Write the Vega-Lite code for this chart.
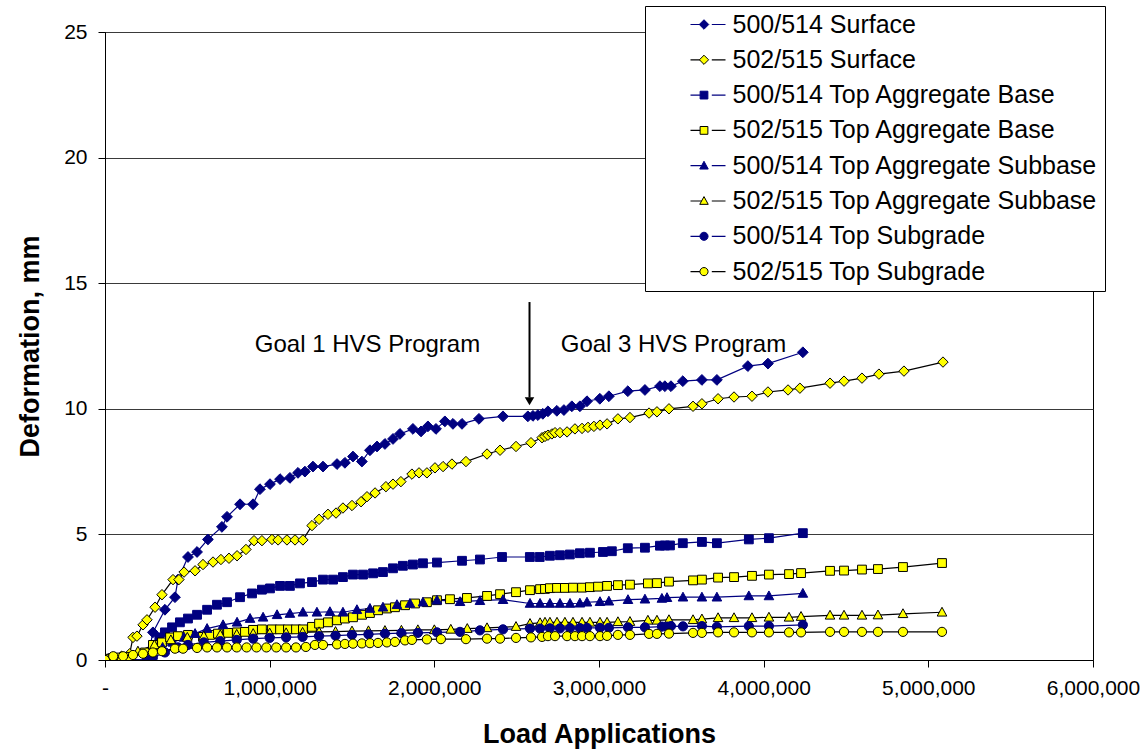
{
"$schema": "https://vega.github.io/schema/vega-lite/v6.json",
"width": 988, "height": 628,
"autosize": {"type": "none"},
"padding": {"left": 105, "top": 32, "right": 50, "bottom": 90},
"background": "white",
"config": {"font": "Liberation Sans", "view": {"stroke": "black", "strokeWidth": 1}},
"data": {"values": [
{"s":"500/514 Surface","x":0,"y":0},{"s":"500/514 Surface","x":20000,"y":0.03},{"s":"500/514 Surface","x":60000,"y":0.05},{"s":"500/514 Surface","x":255000,"y":-0.05},{"s":"500/514 Surface","x":291000,"y":1.1},{"s":"500/514 Surface","x":364000,"y":2.0},{"s":"500/514 Surface","x":425000,"y":2.5},{"s":"500/514 Surface","x":443000,"y":3.2},{"s":"500/514 Surface","x":504000,"y":4.1},{"s":"500/514 Surface","x":559000,"y":4.3},{"s":"500/514 Surface","x":625000,"y":4.8},{"s":"500/514 Surface","x":710000,"y":5.3},{"s":"500/514 Surface","x":741000,"y":5.7},{"s":"500/514 Surface","x":820000,"y":6.2},{"s":"500/514 Surface","x":899000,"y":6.2},{"s":"500/514 Surface","x":941000,"y":6.8},{"s":"500/514 Surface","x":1002000,"y":7.0},{"s":"500/514 Surface","x":1063000,"y":7.2},{"s":"500/514 Surface","x":1123000,"y":7.25},{"s":"500/514 Surface","x":1172000,"y":7.45},{"s":"500/514 Surface","x":1214000,"y":7.5},{"s":"500/514 Surface","x":1263000,"y":7.7},{"s":"500/514 Surface","x":1324000,"y":7.7},{"s":"500/514 Surface","x":1409000,"y":7.8},{"s":"500/514 Surface","x":1457000,"y":7.85},{"s":"500/514 Surface","x":1506000,"y":8.1},{"s":"500/514 Surface","x":1560000,"y":7.9},{"s":"500/514 Surface","x":1609000,"y":8.35},{"s":"500/514 Surface","x":1652000,"y":8.5},{"s":"500/514 Surface","x":1700000,"y":8.6},{"s":"500/514 Surface","x":1749000,"y":8.8},{"s":"500/514 Surface","x":1791000,"y":9.0},{"s":"500/514 Surface","x":1870000,"y":9.2},{"s":"500/514 Surface","x":1919000,"y":9.1},{"s":"500/514 Surface","x":1961000,"y":9.3},{"s":"500/514 Surface","x":2010000,"y":9.2},{"s":"500/514 Surface","x":2064000,"y":9.5},{"s":"500/514 Surface","x":2113000,"y":9.4},{"s":"500/514 Surface","x":2168000,"y":9.4},{"s":"500/514 Surface","x":2271000,"y":9.6},{"s":"500/514 Surface","x":2417000,"y":9.7},{"s":"500/514 Surface","x":2568000,"y":9.7},{"s":"500/514 Surface","x":2599000,"y":9.72},{"s":"500/514 Surface","x":2629000,"y":9.75},{"s":"500/514 Surface","x":2659000,"y":9.8},{"s":"500/514 Surface","x":2690000,"y":9.9},{"s":"500/514 Surface","x":2744000,"y":9.92},{"s":"500/514 Surface","x":2787000,"y":9.95},{"s":"500/514 Surface","x":2835000,"y":10.1},{"s":"500/514 Surface","x":2884000,"y":10.1},{"s":"500/514 Surface","x":2927000,"y":10.3},{"s":"500/514 Surface","x":3005000,"y":10.4},{"s":"500/514 Surface","x":3060000,"y":10.5},{"s":"500/514 Surface","x":3175000,"y":10.7},{"s":"500/514 Surface","x":3279000,"y":10.75},{"s":"500/514 Surface","x":3370000,"y":10.9},{"s":"500/514 Surface","x":3400000,"y":10.9},{"s":"500/514 Surface","x":3437000,"y":10.9},{"s":"500/514 Surface","x":3509000,"y":11.1},{"s":"500/514 Surface","x":3625000,"y":11.15},{"s":"500/514 Surface","x":3716000,"y":11.15},{"s":"500/514 Surface","x":3904000,"y":11.7},{"s":"500/514 Surface","x":4026000,"y":11.8},{"s":"500/514 Surface","x":4238000,"y":12.25},
{"s":"502/515 Surface","x":0,"y":0},{"s":"502/515 Surface","x":20000,"y":0.05},{"s":"502/515 Surface","x":50000,"y":0.1},{"s":"502/515 Surface","x":100000,"y":0.15},{"s":"502/515 Surface","x":150000,"y":0.25},{"s":"502/515 Surface","x":170000,"y":0.9},{"s":"502/515 Surface","x":194000,"y":0.95},{"s":"502/515 Surface","x":231000,"y":1.4},{"s":"502/515 Surface","x":255000,"y":1.6},{"s":"502/515 Surface","x":304000,"y":2.1},{"s":"502/515 Surface","x":346000,"y":2.6},{"s":"502/515 Surface","x":413000,"y":3.2},{"s":"502/515 Surface","x":449000,"y":3.2},{"s":"502/515 Surface","x":480000,"y":3.5},{"s":"502/515 Surface","x":547000,"y":3.55},{"s":"502/515 Surface","x":595000,"y":3.8},{"s":"502/515 Surface","x":656000,"y":3.9},{"s":"502/515 Surface","x":704000,"y":4.0},{"s":"502/515 Surface","x":753000,"y":4.05},{"s":"502/515 Surface","x":802000,"y":4.15},{"s":"502/515 Surface","x":856000,"y":4.4},{"s":"502/515 Surface","x":905000,"y":4.75},{"s":"502/515 Surface","x":953000,"y":4.75},{"s":"502/515 Surface","x":1014000,"y":4.8},{"s":"502/515 Surface","x":1051000,"y":4.78},{"s":"502/515 Surface","x":1105000,"y":4.78},{"s":"502/515 Surface","x":1154000,"y":4.78},{"s":"502/515 Surface","x":1202000,"y":4.78},{"s":"502/515 Surface","x":1257000,"y":5.35},{"s":"502/515 Surface","x":1300000,"y":5.6},{"s":"502/515 Surface","x":1354000,"y":5.8},{"s":"502/515 Surface","x":1403000,"y":5.85},{"s":"502/515 Surface","x":1445000,"y":6.05},{"s":"502/515 Surface","x":1500000,"y":6.15},{"s":"502/515 Surface","x":1555000,"y":6.3},{"s":"502/515 Surface","x":1591000,"y":6.5},{"s":"502/515 Surface","x":1640000,"y":6.65},{"s":"502/515 Surface","x":1706000,"y":6.9},{"s":"502/515 Surface","x":1749000,"y":7.0},{"s":"502/515 Surface","x":1797000,"y":7.1},{"s":"502/515 Surface","x":1864000,"y":7.4},{"s":"502/515 Surface","x":1907000,"y":7.45},{"s":"502/515 Surface","x":1955000,"y":7.45},{"s":"502/515 Surface","x":2004000,"y":7.65},{"s":"502/515 Surface","x":2053000,"y":7.7},{"s":"502/515 Surface","x":2107000,"y":7.8},{"s":"502/515 Surface","x":2192000,"y":7.9},{"s":"502/515 Surface","x":2320000,"y":8.2},{"s":"502/515 Surface","x":2399000,"y":8.35},{"s":"502/515 Surface","x":2496000,"y":8.5},{"s":"502/515 Surface","x":2587000,"y":8.65},{"s":"502/515 Surface","x":2654000,"y":8.85},{"s":"502/515 Surface","x":2672000,"y":8.9},{"s":"502/515 Surface","x":2690000,"y":8.95},{"s":"502/515 Surface","x":2714000,"y":9.0},{"s":"502/515 Surface","x":2733000,"y":9.05},{"s":"502/515 Surface","x":2763000,"y":9.05},{"s":"502/515 Surface","x":2806000,"y":9.08},{"s":"502/515 Surface","x":2854000,"y":9.2},{"s":"502/515 Surface","x":2897000,"y":9.22},{"s":"502/515 Surface","x":2933000,"y":9.26},{"s":"502/515 Surface","x":2969000,"y":9.3},{"s":"502/515 Surface","x":3006000,"y":9.35},{"s":"502/515 Surface","x":3049000,"y":9.4},{"s":"502/515 Surface","x":3115000,"y":9.6},{"s":"502/515 Surface","x":3188000,"y":9.65},{"s":"502/515 Surface","x":3304000,"y":9.83},{"s":"502/515 Surface","x":3352000,"y":9.88},{"s":"502/515 Surface","x":3425000,"y":10.0},{"s":"502/515 Surface","x":3571000,"y":10.1},{"s":"502/515 Surface","x":3625000,"y":10.2},{"s":"502/515 Surface","x":3723000,"y":10.4},{"s":"502/515 Surface","x":3820000,"y":10.47},{"s":"502/515 Surface","x":3929000,"y":10.5},{"s":"502/515 Surface","x":4026000,"y":10.67},{"s":"502/515 Surface","x":4148000,"y":10.75},{"s":"502/515 Surface","x":4220000,"y":10.82},{"s":"502/515 Surface","x":4403000,"y":11.02},{"s":"502/515 Surface","x":4488000,"y":11.1},{"s":"502/515 Surface","x":4597000,"y":11.22},{"s":"502/515 Surface","x":4700000,"y":11.38},{"s":"502/515 Surface","x":4852000,"y":11.5},{"s":"502/515 Surface","x":5089000,"y":11.86},
{"s":"500/514 Top Aggregate Base","x":0,"y":0},{"s":"500/514 Top Aggregate Base","x":40000,"y":0.05},{"s":"500/514 Top Aggregate Base","x":255000,"y":0.0},{"s":"500/514 Top Aggregate Base","x":291000,"y":0.5},{"s":"500/514 Top Aggregate Base","x":330000,"y":0.9},{"s":"500/514 Top Aggregate Base","x":364000,"y":1.1},{"s":"500/514 Top Aggregate Base","x":407000,"y":1.3},{"s":"500/514 Top Aggregate Base","x":455000,"y":1.5},{"s":"500/514 Top Aggregate Base","x":504000,"y":1.65},{"s":"500/514 Top Aggregate Base","x":559000,"y":1.8},{"s":"500/514 Top Aggregate Base","x":620000,"y":2.0},{"s":"500/514 Top Aggregate Base","x":680000,"y":2.2},{"s":"500/514 Top Aggregate Base","x":741000,"y":2.3},{"s":"500/514 Top Aggregate Base","x":820000,"y":2.5},{"s":"500/514 Top Aggregate Base","x":893000,"y":2.65},{"s":"500/514 Top Aggregate Base","x":953000,"y":2.8},{"s":"500/514 Top Aggregate Base","x":1002000,"y":2.85},{"s":"500/514 Top Aggregate Base","x":1063000,"y":2.95},{"s":"500/514 Top Aggregate Base","x":1123000,"y":2.95},{"s":"500/514 Top Aggregate Base","x":1184000,"y":3.05},{"s":"500/514 Top Aggregate Base","x":1257000,"y":3.1},{"s":"500/514 Top Aggregate Base","x":1324000,"y":3.2},{"s":"500/514 Top Aggregate Base","x":1385000,"y":3.2},{"s":"500/514 Top Aggregate Base","x":1445000,"y":3.3},{"s":"500/514 Top Aggregate Base","x":1506000,"y":3.4},{"s":"500/514 Top Aggregate Base","x":1567000,"y":3.4},{"s":"500/514 Top Aggregate Base","x":1628000,"y":3.45},{"s":"500/514 Top Aggregate Base","x":1688000,"y":3.5},{"s":"500/514 Top Aggregate Base","x":1749000,"y":3.65},{"s":"500/514 Top Aggregate Base","x":1809000,"y":3.75},{"s":"500/514 Top Aggregate Base","x":1870000,"y":3.8},{"s":"500/514 Top Aggregate Base","x":1931000,"y":3.85},{"s":"500/514 Top Aggregate Base","x":2016000,"y":3.88},{"s":"500/514 Top Aggregate Base","x":2168000,"y":3.95},{"s":"500/514 Top Aggregate Base","x":2277000,"y":4.0},{"s":"500/514 Top Aggregate Base","x":2411000,"y":4.1},{"s":"500/514 Top Aggregate Base","x":2580000,"y":4.1},{"s":"500/514 Top Aggregate Base","x":2640000,"y":4.1},{"s":"500/514 Top Aggregate Base","x":2702000,"y":4.15},{"s":"500/514 Top Aggregate Base","x":2763000,"y":4.17},{"s":"500/514 Top Aggregate Base","x":2823000,"y":4.2},{"s":"500/514 Top Aggregate Base","x":2884000,"y":4.25},{"s":"500/514 Top Aggregate Base","x":2945000,"y":4.27},{"s":"500/514 Top Aggregate Base","x":3024000,"y":4.3},{"s":"500/514 Top Aggregate Base","x":3078000,"y":4.33},{"s":"500/514 Top Aggregate Base","x":3175000,"y":4.45},{"s":"500/514 Top Aggregate Base","x":3279000,"y":4.47},{"s":"500/514 Top Aggregate Base","x":3370000,"y":4.55},{"s":"500/514 Top Aggregate Base","x":3400000,"y":4.56},{"s":"500/514 Top Aggregate Base","x":3431000,"y":4.56},{"s":"500/514 Top Aggregate Base","x":3509000,"y":4.65},{"s":"500/514 Top Aggregate Base","x":3625000,"y":4.7},{"s":"500/514 Top Aggregate Base","x":3716000,"y":4.65},{"s":"500/514 Top Aggregate Base","x":3910000,"y":4.8},{"s":"500/514 Top Aggregate Base","x":4032000,"y":4.85},{"s":"500/514 Top Aggregate Base","x":4238000,"y":5.05},
{"s":"502/515 Top Aggregate Base","x":0,"y":0},{"s":"502/515 Top Aggregate Base","x":30000,"y":0.05},{"s":"502/515 Top Aggregate Base","x":80000,"y":0.1},{"s":"502/515 Top Aggregate Base","x":152000,"y":0.12},{"s":"502/515 Top Aggregate Base","x":243000,"y":0.3},{"s":"502/515 Top Aggregate Base","x":291000,"y":0.6},{"s":"502/515 Top Aggregate Base","x":346000,"y":0.7},{"s":"502/515 Top Aggregate Base","x":395000,"y":0.9},{"s":"502/515 Top Aggregate Base","x":443000,"y":0.95},{"s":"502/515 Top Aggregate Base","x":504000,"y":1.0},{"s":"502/515 Top Aggregate Base","x":595000,"y":0.92},{"s":"502/515 Top Aggregate Base","x":638000,"y":1.0},{"s":"502/515 Top Aggregate Base","x":686000,"y":1.05},{"s":"502/515 Top Aggregate Base","x":747000,"y":1.08},{"s":"502/515 Top Aggregate Base","x":802000,"y":1.1},{"s":"502/515 Top Aggregate Base","x":850000,"y":1.12},{"s":"502/515 Top Aggregate Base","x":899000,"y":1.2},{"s":"502/515 Top Aggregate Base","x":953000,"y":1.22},{"s":"502/515 Top Aggregate Base","x":1014000,"y":1.22},{"s":"502/515 Top Aggregate Base","x":1063000,"y":1.22},{"s":"502/515 Top Aggregate Base","x":1111000,"y":1.22},{"s":"502/515 Top Aggregate Base","x":1160000,"y":1.22},{"s":"502/515 Top Aggregate Base","x":1202000,"y":1.22},{"s":"502/515 Top Aggregate Base","x":1257000,"y":1.32},{"s":"502/515 Top Aggregate Base","x":1300000,"y":1.45},{"s":"502/515 Top Aggregate Base","x":1354000,"y":1.5},{"s":"502/515 Top Aggregate Base","x":1409000,"y":1.58},{"s":"502/515 Top Aggregate Base","x":1457000,"y":1.65},{"s":"502/515 Top Aggregate Base","x":1506000,"y":1.7},{"s":"502/515 Top Aggregate Base","x":1561000,"y":1.8},{"s":"502/515 Top Aggregate Base","x":1609000,"y":1.87},{"s":"502/515 Top Aggregate Base","x":1658000,"y":1.98},{"s":"502/515 Top Aggregate Base","x":1712000,"y":2.05},{"s":"502/515 Top Aggregate Base","x":1761000,"y":2.1},{"s":"502/515 Top Aggregate Base","x":1822000,"y":2.18},{"s":"502/515 Top Aggregate Base","x":1883000,"y":2.25},{"s":"502/515 Top Aggregate Base","x":1955000,"y":2.3},{"s":"502/515 Top Aggregate Base","x":2016000,"y":2.38},{"s":"502/515 Top Aggregate Base","x":2095000,"y":2.42},{"s":"502/515 Top Aggregate Base","x":2198000,"y":2.47},{"s":"502/515 Top Aggregate Base","x":2320000,"y":2.55},{"s":"502/515 Top Aggregate Base","x":2399000,"y":2.62},{"s":"502/515 Top Aggregate Base","x":2496000,"y":2.7},{"s":"502/515 Top Aggregate Base","x":2581000,"y":2.78},{"s":"502/515 Top Aggregate Base","x":2642000,"y":2.82},{"s":"502/515 Top Aggregate Base","x":2672000,"y":2.83},{"s":"502/515 Top Aggregate Base","x":2702000,"y":2.86},{"s":"502/515 Top Aggregate Base","x":2745000,"y":2.87},{"s":"502/515 Top Aggregate Base","x":2793000,"y":2.87},{"s":"502/515 Top Aggregate Base","x":2842000,"y":2.88},{"s":"502/515 Top Aggregate Base","x":2897000,"y":2.88},{"s":"502/515 Top Aggregate Base","x":2945000,"y":2.9},{"s":"502/515 Top Aggregate Base","x":2994000,"y":2.92},{"s":"502/515 Top Aggregate Base","x":3049000,"y":2.95},{"s":"502/515 Top Aggregate Base","x":3115000,"y":2.98},{"s":"502/515 Top Aggregate Base","x":3188000,"y":3.0},{"s":"502/515 Top Aggregate Base","x":3297000,"y":3.05},{"s":"502/515 Top Aggregate Base","x":3352000,"y":3.06},{"s":"502/515 Top Aggregate Base","x":3425000,"y":3.12},{"s":"502/515 Top Aggregate Base","x":3571000,"y":3.17},{"s":"502/515 Top Aggregate Base","x":3625000,"y":3.2},{"s":"502/515 Top Aggregate Base","x":3723000,"y":3.28},{"s":"502/515 Top Aggregate Base","x":3820000,"y":3.3},{"s":"502/515 Top Aggregate Base","x":3929000,"y":3.35},{"s":"502/515 Top Aggregate Base","x":4032000,"y":3.4},{"s":"502/515 Top Aggregate Base","x":4154000,"y":3.42},{"s":"502/515 Top Aggregate Base","x":4227000,"y":3.46},{"s":"502/515 Top Aggregate Base","x":4403000,"y":3.55},{"s":"502/515 Top Aggregate Base","x":4488000,"y":3.56},{"s":"502/515 Top Aggregate Base","x":4597000,"y":3.6},{"s":"502/515 Top Aggregate Base","x":4694000,"y":3.62},{"s":"502/515 Top Aggregate Base","x":4846000,"y":3.7},{"s":"502/515 Top Aggregate Base","x":5083000,"y":3.86},
{"s":"500/514 Top Aggregate Subbase","x":0,"y":0},{"s":"500/514 Top Aggregate Subbase","x":40000,"y":0.05},{"s":"500/514 Top Aggregate Subbase","x":255000,"y":0.0},{"s":"500/514 Top Aggregate Subbase","x":291000,"y":0.3},{"s":"500/514 Top Aggregate Subbase","x":350000,"y":0.5},{"s":"500/514 Top Aggregate Subbase","x":413000,"y":0.7},{"s":"500/514 Top Aggregate Subbase","x":480000,"y":0.9},{"s":"500/514 Top Aggregate Subbase","x":547000,"y":1.05},{"s":"500/514 Top Aggregate Subbase","x":620000,"y":1.25},{"s":"500/514 Top Aggregate Subbase","x":717000,"y":1.4},{"s":"500/514 Top Aggregate Subbase","x":802000,"y":1.5},{"s":"500/514 Top Aggregate Subbase","x":881000,"y":1.65},{"s":"500/514 Top Aggregate Subbase","x":960000,"y":1.7},{"s":"500/514 Top Aggregate Subbase","x":1045000,"y":1.8},{"s":"500/514 Top Aggregate Subbase","x":1123000,"y":1.85},{"s":"500/514 Top Aggregate Subbase","x":1202000,"y":1.9},{"s":"500/514 Top Aggregate Subbase","x":1287000,"y":1.9},{"s":"500/514 Top Aggregate Subbase","x":1366000,"y":1.92},{"s":"500/514 Top Aggregate Subbase","x":1445000,"y":1.9},{"s":"500/514 Top Aggregate Subbase","x":1530000,"y":2.0},{"s":"500/514 Top Aggregate Subbase","x":1609000,"y":2.05},{"s":"500/514 Top Aggregate Subbase","x":1688000,"y":2.1},{"s":"500/514 Top Aggregate Subbase","x":1773000,"y":2.2},{"s":"500/514 Top Aggregate Subbase","x":1852000,"y":2.25},{"s":"500/514 Top Aggregate Subbase","x":1931000,"y":2.3},{"s":"500/514 Top Aggregate Subbase","x":2016000,"y":2.38},{"s":"500/514 Top Aggregate Subbase","x":2156000,"y":2.32},{"s":"500/514 Top Aggregate Subbase","x":2277000,"y":2.36},{"s":"500/514 Top Aggregate Subbase","x":2417000,"y":2.4},{"s":"500/514 Top Aggregate Subbase","x":2581000,"y":2.25},{"s":"500/514 Top Aggregate Subbase","x":2642000,"y":2.25},{"s":"500/514 Top Aggregate Subbase","x":2702000,"y":2.25},{"s":"500/514 Top Aggregate Subbase","x":2763000,"y":2.25},{"s":"500/514 Top Aggregate Subbase","x":2824000,"y":2.25},{"s":"500/514 Top Aggregate Subbase","x":2884000,"y":2.26},{"s":"500/514 Top Aggregate Subbase","x":2927000,"y":2.3},{"s":"500/514 Top Aggregate Subbase","x":3006000,"y":2.32},{"s":"500/514 Top Aggregate Subbase","x":3060000,"y":2.34},{"s":"500/514 Top Aggregate Subbase","x":3176000,"y":2.4},{"s":"500/514 Top Aggregate Subbase","x":3279000,"y":2.42},{"s":"500/514 Top Aggregate Subbase","x":3382000,"y":2.45},{"s":"500/514 Top Aggregate Subbase","x":3413000,"y":2.48},{"s":"500/514 Top Aggregate Subbase","x":3510000,"y":2.5},{"s":"500/514 Top Aggregate Subbase","x":3625000,"y":2.5},{"s":"500/514 Top Aggregate Subbase","x":3716000,"y":2.5},{"s":"500/514 Top Aggregate Subbase","x":3910000,"y":2.55},{"s":"500/514 Top Aggregate Subbase","x":4032000,"y":2.55},{"s":"500/514 Top Aggregate Subbase","x":4238000,"y":2.65},
{"s":"502/515 Top Aggregate Subbase","x":0,"y":0},{"s":"502/515 Top Aggregate Subbase","x":30000,"y":0.05},{"s":"502/515 Top Aggregate Subbase","x":100000,"y":0.12},{"s":"502/515 Top Aggregate Subbase","x":200000,"y":0.35},{"s":"502/515 Top Aggregate Subbase","x":300000,"y":0.6},{"s":"502/515 Top Aggregate Subbase","x":400000,"y":0.8},{"s":"502/515 Top Aggregate Subbase","x":500000,"y":0.9},{"s":"502/515 Top Aggregate Subbase","x":600000,"y":0.95},{"s":"502/515 Top Aggregate Subbase","x":700000,"y":1.0},{"s":"502/515 Top Aggregate Subbase","x":800000,"y":1.02},{"s":"502/515 Top Aggregate Subbase","x":900000,"y":1.05},{"s":"502/515 Top Aggregate Subbase","x":1000000,"y":1.07},{"s":"502/515 Top Aggregate Subbase","x":1100000,"y":1.08},{"s":"502/515 Top Aggregate Subbase","x":1200000,"y":1.1},{"s":"502/515 Top Aggregate Subbase","x":1300000,"y":1.12},{"s":"502/515 Top Aggregate Subbase","x":1400000,"y":1.13},{"s":"502/515 Top Aggregate Subbase","x":1500000,"y":1.15},{"s":"502/515 Top Aggregate Subbase","x":1600000,"y":1.16},{"s":"502/515 Top Aggregate Subbase","x":1700000,"y":1.17},{"s":"502/515 Top Aggregate Subbase","x":1800000,"y":1.18},{"s":"502/515 Top Aggregate Subbase","x":1900000,"y":1.2},{"s":"502/515 Top Aggregate Subbase","x":2000000,"y":1.2},{"s":"502/515 Top Aggregate Subbase","x":2100000,"y":1.22},{"s":"502/515 Top Aggregate Subbase","x":2200000,"y":1.25},{"s":"502/515 Top Aggregate Subbase","x":2320000,"y":1.28},{"s":"502/515 Top Aggregate Subbase","x":2496000,"y":1.33},{"s":"502/515 Top Aggregate Subbase","x":2581000,"y":1.45},{"s":"502/515 Top Aggregate Subbase","x":2642000,"y":1.48},{"s":"502/515 Top Aggregate Subbase","x":2672000,"y":1.5},{"s":"502/515 Top Aggregate Subbase","x":2702000,"y":1.5},{"s":"502/515 Top Aggregate Subbase","x":2745000,"y":1.5},{"s":"502/515 Top Aggregate Subbase","x":2793000,"y":1.5},{"s":"502/515 Top Aggregate Subbase","x":2842000,"y":1.5},{"s":"502/515 Top Aggregate Subbase","x":2897000,"y":1.5},{"s":"502/515 Top Aggregate Subbase","x":2945000,"y":1.5},{"s":"502/515 Top Aggregate Subbase","x":3006000,"y":1.5},{"s":"502/515 Top Aggregate Subbase","x":3049000,"y":1.5},{"s":"502/515 Top Aggregate Subbase","x":3115000,"y":1.52},{"s":"502/515 Top Aggregate Subbase","x":3188000,"y":1.53},{"s":"502/515 Top Aggregate Subbase","x":3297000,"y":1.58},{"s":"502/515 Top Aggregate Subbase","x":3352000,"y":1.58},{"s":"502/515 Top Aggregate Subbase","x":3425000,"y":1.6},{"s":"502/515 Top Aggregate Subbase","x":3571000,"y":1.6},{"s":"502/515 Top Aggregate Subbase","x":3625000,"y":1.63},{"s":"502/515 Top Aggregate Subbase","x":3723000,"y":1.68},{"s":"502/515 Top Aggregate Subbase","x":3820000,"y":1.68},{"s":"502/515 Top Aggregate Subbase","x":3929000,"y":1.68},{"s":"502/515 Top Aggregate Subbase","x":4032000,"y":1.7},{"s":"502/515 Top Aggregate Subbase","x":4154000,"y":1.7},{"s":"502/515 Top Aggregate Subbase","x":4227000,"y":1.73},{"s":"502/515 Top Aggregate Subbase","x":4403000,"y":1.78},{"s":"502/515 Top Aggregate Subbase","x":4488000,"y":1.78},{"s":"502/515 Top Aggregate Subbase","x":4597000,"y":1.78},{"s":"502/515 Top Aggregate Subbase","x":4694000,"y":1.79},{"s":"502/515 Top Aggregate Subbase","x":4846000,"y":1.84},{"s":"502/515 Top Aggregate Subbase","x":5083000,"y":1.9},
{"s":"500/514 Top Subgrade","x":0,"y":0},{"s":"500/514 Top Subgrade","x":40000,"y":0.02},{"s":"500/514 Top Subgrade","x":255000,"y":-0.05},{"s":"500/514 Top Subgrade","x":291000,"y":0.1},{"s":"500/514 Top Subgrade","x":364000,"y":0.3},{"s":"500/514 Top Subgrade","x":443000,"y":0.5},{"s":"500/514 Top Subgrade","x":504000,"y":0.6},{"s":"500/514 Top Subgrade","x":600000,"y":0.7},{"s":"500/514 Top Subgrade","x":700000,"y":0.75},{"s":"500/514 Top Subgrade","x":800000,"y":0.8},{"s":"500/514 Top Subgrade","x":900000,"y":0.85},{"s":"500/514 Top Subgrade","x":1000000,"y":0.88},{"s":"500/514 Top Subgrade","x":1100000,"y":0.9},{"s":"500/514 Top Subgrade","x":1200000,"y":0.92},{"s":"500/514 Top Subgrade","x":1300000,"y":0.95},{"s":"500/514 Top Subgrade","x":1400000,"y":0.97},{"s":"500/514 Top Subgrade","x":1500000,"y":1.0},{"s":"500/514 Top Subgrade","x":1600000,"y":1.02},{"s":"500/514 Top Subgrade","x":1700000,"y":1.05},{"s":"500/514 Top Subgrade","x":1800000,"y":1.07},{"s":"500/514 Top Subgrade","x":1900000,"y":1.08},{"s":"500/514 Top Subgrade","x":2016000,"y":1.1},{"s":"500/514 Top Subgrade","x":2156000,"y":1.12},{"s":"500/514 Top Subgrade","x":2277000,"y":1.18},{"s":"500/514 Top Subgrade","x":2417000,"y":1.22},{"s":"500/514 Top Subgrade","x":2581000,"y":1.25},{"s":"500/514 Top Subgrade","x":2642000,"y":1.25},{"s":"500/514 Top Subgrade","x":2702000,"y":1.26},{"s":"500/514 Top Subgrade","x":2763000,"y":1.26},{"s":"500/514 Top Subgrade","x":2824000,"y":1.27},{"s":"500/514 Top Subgrade","x":2884000,"y":1.27},{"s":"500/514 Top Subgrade","x":2927000,"y":1.28},{"s":"500/514 Top Subgrade","x":3006000,"y":1.28},{"s":"500/514 Top Subgrade","x":3060000,"y":1.28},{"s":"500/514 Top Subgrade","x":3176000,"y":1.3},{"s":"500/514 Top Subgrade","x":3279000,"y":1.3},{"s":"500/514 Top Subgrade","x":3382000,"y":1.33},{"s":"500/514 Top Subgrade","x":3413000,"y":1.33},{"s":"500/514 Top Subgrade","x":3437000,"y":1.35},{"s":"500/514 Top Subgrade","x":3510000,"y":1.34},{"s":"500/514 Top Subgrade","x":3625000,"y":1.35},{"s":"500/514 Top Subgrade","x":3716000,"y":1.32},{"s":"500/514 Top Subgrade","x":3910000,"y":1.35},{"s":"500/514 Top Subgrade","x":4032000,"y":1.35},{"s":"500/514 Top Subgrade","x":4238000,"y":1.4},
{"s":"502/515 Top Subgrade","x":0,"y":0},{"s":"502/515 Top Subgrade","x":50000,"y":0.15},{"s":"502/515 Top Subgrade","x":110000,"y":0.15},{"s":"502/515 Top Subgrade","x":170000,"y":0.2},{"s":"502/515 Top Subgrade","x":231000,"y":0.25},{"s":"502/515 Top Subgrade","x":291000,"y":0.3},{"s":"502/515 Top Subgrade","x":346000,"y":0.35},{"s":"502/515 Top Subgrade","x":425000,"y":0.45},{"s":"502/515 Top Subgrade","x":474000,"y":0.45},{"s":"502/515 Top Subgrade","x":559000,"y":0.48},{"s":"502/515 Top Subgrade","x":620000,"y":0.5},{"s":"502/515 Top Subgrade","x":680000,"y":0.5},{"s":"502/515 Top Subgrade","x":741000,"y":0.5},{"s":"502/515 Top Subgrade","x":800000,"y":0.5},{"s":"502/515 Top Subgrade","x":860000,"y":0.5},{"s":"502/515 Top Subgrade","x":920000,"y":0.5},{"s":"502/515 Top Subgrade","x":980000,"y":0.5},{"s":"502/515 Top Subgrade","x":1040000,"y":0.5},{"s":"502/515 Top Subgrade","x":1100000,"y":0.5},{"s":"502/515 Top Subgrade","x":1160000,"y":0.5},{"s":"502/515 Top Subgrade","x":1220000,"y":0.52},{"s":"502/515 Top Subgrade","x":1275000,"y":0.6},{"s":"502/515 Top Subgrade","x":1324000,"y":0.6},{"s":"502/515 Top Subgrade","x":1409000,"y":0.62},{"s":"502/515 Top Subgrade","x":1457000,"y":0.64},{"s":"502/515 Top Subgrade","x":1506000,"y":0.65},{"s":"502/515 Top Subgrade","x":1560000,"y":0.66},{"s":"502/515 Top Subgrade","x":1609000,"y":0.67},{"s":"502/515 Top Subgrade","x":1658000,"y":0.68},{"s":"502/515 Top Subgrade","x":1712000,"y":0.7},{"s":"502/515 Top Subgrade","x":1761000,"y":0.72},{"s":"502/515 Top Subgrade","x":1822000,"y":0.78},{"s":"502/515 Top Subgrade","x":1864000,"y":0.8},{"s":"502/515 Top Subgrade","x":1955000,"y":0.82},{"s":"502/515 Top Subgrade","x":2040000,"y":0.83},{"s":"502/515 Top Subgrade","x":2192000,"y":0.83},{"s":"502/515 Top Subgrade","x":2320000,"y":0.85},{"s":"502/515 Top Subgrade","x":2399000,"y":0.85},{"s":"502/515 Top Subgrade","x":2496000,"y":0.88},{"s":"502/515 Top Subgrade","x":2587000,"y":0.9},{"s":"502/515 Top Subgrade","x":2654000,"y":0.92},{"s":"502/515 Top Subgrade","x":2690000,"y":0.95},{"s":"502/515 Top Subgrade","x":2733000,"y":0.95},{"s":"502/515 Top Subgrade","x":2806000,"y":0.95},{"s":"502/515 Top Subgrade","x":2854000,"y":0.95},{"s":"502/515 Top Subgrade","x":2897000,"y":0.95},{"s":"502/515 Top Subgrade","x":2945000,"y":0.95},{"s":"502/515 Top Subgrade","x":3006000,"y":0.95},{"s":"502/515 Top Subgrade","x":3049000,"y":0.96},{"s":"502/515 Top Subgrade","x":3115000,"y":1.0},{"s":"502/515 Top Subgrade","x":3188000,"y":1.0},{"s":"502/515 Top Subgrade","x":3304000,"y":1.04},{"s":"502/515 Top Subgrade","x":3352000,"y":1.04},{"s":"502/515 Top Subgrade","x":3425000,"y":1.05},{"s":"502/515 Top Subgrade","x":3571000,"y":1.08},{"s":"502/515 Top Subgrade","x":3625000,"y":1.08},{"s":"502/515 Top Subgrade","x":3723000,"y":1.1},{"s":"502/515 Top Subgrade","x":3820000,"y":1.1},{"s":"502/515 Top Subgrade","x":3929000,"y":1.1},{"s":"502/515 Top Subgrade","x":4032000,"y":1.1},{"s":"502/515 Top Subgrade","x":4154000,"y":1.1},{"s":"502/515 Top Subgrade","x":4227000,"y":1.1},{"s":"502/515 Top Subgrade","x":4403000,"y":1.12},{"s":"502/515 Top Subgrade","x":4488000,"y":1.12},{"s":"502/515 Top Subgrade","x":4597000,"y":1.12},{"s":"502/515 Top Subgrade","x":4694000,"y":1.12},{"s":"502/515 Top Subgrade","x":4846000,"y":1.12},{"s":"502/515 Top Subgrade","x":5083000,"y":1.12}
]},
"encoding": {
  "x": {"field": "x", "type": "quantitative",
    "scale": {"domain": [0, 6000000], "nice": false, "zero": false},
    "axis": {"values": [0,1000000,2000000,3000000,4000000,5000000,6000000],
      "labelExpr": "datum.value == 0 ? '-' : format(datum.value, ',')",
      "grid": false, "tickSize": 7, "tickColor": "black", "domainColor": "black",
      "labelFontSize": 21, "labelColor": "black", "labelPadding": 10, "labelFlush": false, "labelOverlap": false,
      "title": "Load Applications", "titleFontSize": 27, "titleFontWeight": "bold", "titleColor": "black",
      "titleY": 74, "titleBaseline": "middle"}},
  "y": {"field": "y", "type": "quantitative",
    "scale": {"domain": [0, 25], "nice": false, "zero": false},
    "axis": {"values": [0,5,10,15,20,25], "grid": true, "gridColor": "#3a3a3a", "gridWidth": 1,
      "tickSize": 7, "tickColor": "black", "domainColor": "black",
      "labelFontSize": 21, "labelColor": "black", "labelPadding": 11,
      "title": "Deformation, mm", "titleFontSize": 27, "titleFontWeight": "bold", "titleColor": "black",
      "titleX": -75, "titleY": 314, "titleAlign": "center", "titleBaseline": "middle", "titleAngle": -90}}
},
"layer": [
  {"mark": {"type": "line", "strokeWidth": 1.2, "clip": true},
   "encoding": {
     "color": {"field": "s", "type": "nominal",
       "scale": {"domain": ["502/515 Top Subgrade","500/514 Top Subgrade","502/515 Top Aggregate Subbase","500/514 Top Aggregate Subbase","502/515 Top Aggregate Base","500/514 Top Aggregate Base","502/515 Surface","500/514 Surface"],
                 "range": ["#000000","#000080","#000000","#000080","#000000","#000080","#000000","#000080"]},
       "legend": {"orient": "none", "legendX": 540, "legendY": -26, "title": null,
         "values": ["500/514 Surface","502/515 Surface","500/514 Top Aggregate Base","502/515 Top Aggregate Base","500/514 Top Aggregate Subbase","502/515 Top Aggregate Subbase","500/514 Top Subgrade","502/515 Top Subgrade"],
         "fillColor": "white", "strokeColor": "black", "padding": 6,
         "labelFontSize": 25, "labelColor": "black", "labelFont": "Liberation Sans", "labelLimit": 600,
         "symbolType": "M-1.75,0H-0.38M0.38,0H1.75", "symbolSize": 400, "symbolStrokeWidth": 1.2,
         "symbolOffset": 44.5, "labelOffset": 12, "rowPadding": 9.3}}}},
  {"mark": {"type": "point", "filled": true, "opacity": 1, "strokeWidth": 1, "size": 64, "clip": true},
   "encoding": {
     "fill": {"field": "s", "type": "nominal",
       "scale": {"domain": ["500/514 Surface","502/515 Surface","500/514 Top Aggregate Base","502/515 Top Aggregate Base","500/514 Top Aggregate Subbase","502/515 Top Aggregate Subbase","500/514 Top Subgrade","502/515 Top Subgrade"],
                 "range": ["#000080","#FFFF00","#000080","#FFFF00","#000080","#FFFF00","#000080","#FFFF00"]},
       "legend": {"orient": "none", "legendX": 540, "legendY": -26, "title": null,
         "padding": 6, "labelExpr": "' '",
         "labelFontSize": 25, "labelColor": "black", "labelFont": "Liberation Sans", "labelLimit": 600,
         "symbolSize": 50, "symbolStrokeWidth": 1, "symbolOffset": 40.5, "labelOffset": 383, "rowPadding": 9.3}},
     "stroke": {"field": "s", "type": "nominal",
       "scale": {"domain": ["500/514 Surface","502/515 Surface","500/514 Top Aggregate Base","502/515 Top Aggregate Base","500/514 Top Aggregate Subbase","502/515 Top Aggregate Subbase","500/514 Top Subgrade","502/515 Top Subgrade"],
                 "range": ["#000080","#000000","#000080","#000000","#000080","#000000","#000080","#000000"]}},
     "shape": {"field": "s", "type": "nominal",
       "scale": {"domain": ["500/514 Surface","502/515 Surface","500/514 Top Aggregate Base","502/515 Top Aggregate Base","500/514 Top Aggregate Subbase","502/515 Top Aggregate Subbase","500/514 Top Subgrade","502/515 Top Subgrade"],
                 "range": ["M0,-1.35L1.35,0L0,1.35L-1.35,0Z","M0,-1.3L1.3,0L0,1.3L-1.3,0Z","M-1.1,-1.1H1.1V1.1H-1.1Z","M-1.1,-1.1H1.1V1.1H-1.1Z","M0,-1.25L1.2,0.95L-1.2,0.95Z","M0,-1.25L1.2,0.95L-1.2,0.95Z","M1.15,0A1.15,1.15,0,1,1,-1.15,0A1.15,1.15,0,1,1,1.15,0Z","M1.15,0A1.15,1.15,0,1,1,-1.15,0A1.15,1.15,0,1,1,1.15,0Z"]}}
   }},
  {"data": {"values": [{"label": "Goal 1 HVS Program", "x": 1594000, "y": 12.53}, {"label": "Goal 3 HVS Program", "x": 3452000, "y": 12.53}]},
   "mark": {"type": "text", "fontSize": 24, "font": "Liberation Sans", "color": "black", "align": "center", "baseline": "middle"},
   "encoding": {"text": {"field": "label", "type": "nominal"}}},
  {"data": {"values": [{"x": 2578000, "y": 14.25, "y2": 10.45}]},
   "mark": {"type": "rule", "color": "black", "strokeWidth": 2},
   "encoding": {"y2": {"field": "y2"}}},
  {"data": {"values": [{"x": 2578000, "y": 10.3}]},
   "mark": {"type": "point", "shape": "triangle-down", "filled": true, "color": "black", "opacity": 1, "size": 90},
   "encoding": {}}
]
}
